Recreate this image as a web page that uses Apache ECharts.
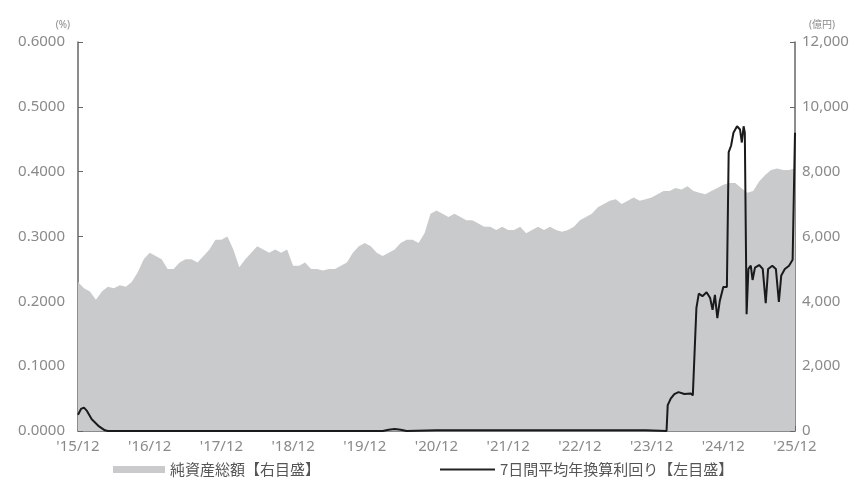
<!DOCTYPE html>
<html>
<head>
<meta charset="utf-8">
<script src="https://cdn.jsdelivr.net/npm/echarts@6/dist/echarts.min.js"></script>
<style>
html,body{margin:0;padding:0;background:#fff;}
#c{width:864px;height:493px;}
</style>
</head>
<body>
<div id="c"></div>
<script>
// x axis: months since 2015/12 (0 = '15/12, 120 = '25/12)
const tickLabels = ["'15/12","'16/12","'17/12","'18/12","'19/12","'20/12","'21/12","'22/12","'23/12","'24/12","'25/12"];

// 純資産総額 (億円), monthly from 2015/12 to 2025/12
const netAssets = [
  4600,4400,4300,4050,4300,4450,4400,4500,4450,4600,4900,5300,
  5500,5400,5300,5000,5000,5200,5300,5300,5200,5400,5600,5900,
  5900,6000,5600,5050,5300,5500,5700,5600,5500,5600,5500,5600,
  5100,5100,5200,5000,5000,4950,5000,5000,5100,5200,5500,5700,
  5800,5700,5500,5400,5500,5600,5800,5900,5900,5800,6100,6700,
  6800,6700,6600,6700,6600,6500,6500,6400,6300,6300,6200,6300,
  6200,6200,6300,6100,6200,6300,6200,6300,6200,6150,6200,6300,
  6500,6600,6700,6900,7000,7100,7150,7000,7100,7200,7100,7150,
  7200,7300,7400,7400,7500,7450,7550,7400,7350,7300,7400,7500,
  7600,7650,7650,7500,7350,7400,7700,7900,8050,8100,8050,8050,
  8100
];

// 7日間平均年換算利回り (%): [month index, value]
const yieldMonths = [0,0.5,1,1.5,2.3,3.4,4.5,5,51,52,53,54,55,60,70,75,95,98.5,
  98.7,99.2,99.8,100.5,101.5,102.5,102.9,103.5,103.9,104.5,105.2,105.8,106.2,106.6,107.0,107.4,108.0,108.6,
  108.9,109.3,109.7,110.3,110.8,111.1,111.4,111.6,111.9,112.2,112.6,112.9,113.3,114.0,114.6,115.1,115.5,
  116.2,116.8,117.3,117.7,118.3,119.0,119.6,119.9,120];
const yieldValues = [0.025,0.034,0.036,0.031,0.018,0.008,0.001,0,0,0.002,0.003,0.002,0,0.001,0.001,0.001,0.001,0,
  0.04,0.05,0.057,0.06,0.057,0.058,0.055,0.19,0.212,0.208,0.214,0.205,0.187,0.21,0.174,0.2,0.222,0.222,
  0.43,0.44,0.46,0.47,0.465,0.445,0.47,0.46,0.18,0.25,0.255,0.233,0.252,0.256,0.25,0.197,0.25,
  0.255,0.25,0.199,0.24,0.25,0.255,0.264,0.265,0.46];

const nameArea = '純資産総額【右目盛】';
const nameLine = '7日間平均年換算利回り【左目盛】';

const chart = echarts.init(document.getElementById('c'), null, {renderer:'canvas'});
const labelColor = '#8a8a8a';
const axisColor = '#666';
const font = "'Noto Sans', 'Noto Sans CJK JP', sans-serif";

chart.setOption({
  animation:false,
  textStyle:{fontFamily:font},
  grid:{left:78,right:69,top:42,bottom:62},
  legend:[
    {left:108, top:457, itemWidth:52, itemHeight:7, itemGap:10,
     textStyle:{fontSize:15,color:'#555',fontFamily:"'Noto Sans CJK JP', sans-serif"},
     data:[{name:nameArea, icon:'rect', itemStyle:{color:'#c9cacc'}}]},
    {left:435, top:457, itemWidth:55, itemHeight:2, itemGap:8,
     textStyle:{fontSize:15,color:'#555',fontFamily:"'Noto Sans CJK JP', sans-serif"},
     data:[{name:nameLine, icon:'rect', itemStyle:{color:'#222'}}]}
  ],
  xAxis:{
    type:'value', min:0, max:120, interval:12,
    axisLine:{lineStyle:{color:axisColor,width:1.5}},
    axisTick:{inside:true,length:5,lineStyle:{color:axisColor}},
    splitLine:{show:false},
    axisLabel:{color:labelColor,fontSize:15,margin:8,
      formatter:v=>tickLabels[Math.round(v/12)]}
  },
  yAxis:[
    {type:'value',min:0,max:0.6,interval:0.1,
     name:'(%)',nameGap:12,nameTextStyle:{color:labelColor,fontSize:10,align:'right',padding:[0,8,0,0]},
     axisLine:{show:true,lineStyle:{color:axisColor,width:1.5}},
     axisTick:{show:true,inside:true,length:5,lineStyle:{color:axisColor}},
     splitLine:{show:false},
     axisLabel:{color:labelColor,fontSize:15,margin:13,formatter:v=>v.toFixed(4)}},
    {type:'value',min:0,max:12000,interval:2000,position:'right',
     name:'(億円)',nameGap:12,nameTextStyle:{color:labelColor,fontSize:10,align:'left',padding:[0,0,0,14]},
     axisLine:{show:true,lineStyle:{color:axisColor,width:1.5}},
     axisTick:{show:true,inside:true,length:5,lineStyle:{color:axisColor}},
     splitLine:{show:false},
     axisLabel:{color:labelColor,fontSize:15,margin:7,
       formatter:v=>v.toLocaleString('en-US')}}
  ],
  series:[
    {name:nameArea,type:'line',yAxisIndex:1,showSymbol:false,
     data:netAssets.map((v,i)=>[i,v]),
     lineStyle:{width:0,color:'#c9cacc'},itemStyle:{color:'#c9cacc'},
     areaStyle:{color:'#c9cacc',opacity:1},z:1},
    {name:nameLine,type:'line',yAxisIndex:0,showSymbol:false,
     data:yieldMonths.map((m,i)=>[m,yieldValues[i]]),
     lineStyle:{width:2,color:'#1a1a1a'},itemStyle:{color:'#1a1a1a'},z:3}
  ]
});
</script>
</body>
</html>
